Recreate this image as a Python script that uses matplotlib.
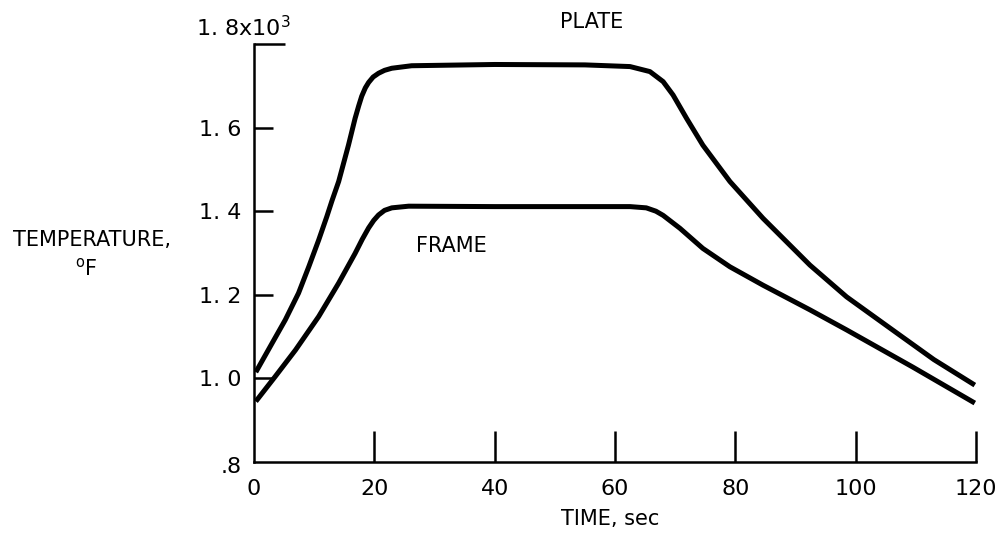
import numpy as np
import matplotlib
matplotlib.use("Agg")
import matplotlib.pyplot as plt

# -----------------------------
# Dados (tempo em s, temperatura em 10^3 °F)
# -----------------------------
plate_t = [0.3, 3.0, 5.2, 7.4, 9.1, 10.75, 12.1, 12.96, 14.07, 15.7, 16.8,
           17.4, 17.9, 18.5, 19.05, 19.8, 20.7, 21.7, 22.9, 26.2, 40, 55,
           62.5, 65.8, 68, 69.65, 71.9, 74.6, 79.1, 84.6, 92.4, 98.5, 106.8,
           113, 119.8]
plate_v = [1.015, 1.084, 1.14, 1.204, 1.267, 1.331, 1.387, 1.425, 1.471,
           1.558, 1.622, 1.652, 1.675, 1.695, 1.708, 1.721, 1.730, 1.737,
           1.742, 1.748, 1.751, 1.750, 1.746, 1.734, 1.71, 1.678, 1.622,
           1.558, 1.471, 1.383, 1.271, 1.195, 1.109, 1.045, 0.984]

frame_t = [0.3, 3.5, 6.9, 10.75, 14.07, 16.8, 18.0, 19.05, 19.9, 20.7, 21.7,
           22.9, 25.7, 40, 55, 62.5, 65.2, 66.8, 68, 70.8, 74.6, 79.1, 84.6,
           92.4, 98.5, 109.5, 119.8]
frame_v = [0.945, 1.004, 1.068, 1.148, 1.228, 1.299, 1.333, 1.360, 1.378,
           1.391, 1.402, 1.408, 1.412, 1.411, 1.411, 1.411, 1.408, 1.400,
           1.390, 1.359, 1.311, 1.267, 1.223, 1.164, 1.116, 1.027, 0.941]

x_ticks = [0, 20, 40, 60, 80, 100, 120]
x_labels = ["0", "20", "40", "60", "80", "100", "120"]
y_ticks = [1.0, 1.2, 1.4, 1.6]
y_labels = ["1. 0", "1. 2", "1. 4", "1. 6"]

# -----------------------------
# Figura
# -----------------------------
plt.rcParams['font.family'] = ['DejaVu Sans']
W, H = 997, 541
fig = plt.figure(figsize=(W / 100, H / 100), dpi=100)

def px(x, y):
    # converte pixels da imagem para fração da figura
    return x / W, 1 - y / H

ax = fig.add_axes([254 / W, 1 - 462 / H, (976 - 254) / W, (462 - 44) / H])
ax.plot(plate_t, plate_v, color='black', lw=3.6, solid_capstyle='butt',
        solid_joinstyle='round')
ax.plot(frame_t, frame_v, color='black', lw=3.6, solid_capstyle='butt',
        solid_joinstyle='round')

ax.set_xlim(0, 120)
ax.set_ylim(0.8, 1.8)
for s in ['top', 'right']:
    ax.spines[s].set_visible(False)
for s in ['left', 'bottom']:
    ax.spines[s].set_linewidth(1.8)

ax.set_xticks(x_ticks)
ax.set_xticklabels(x_labels, fontsize=16)
ax.set_yticks(y_ticks)
ax.set_yticklabels(y_labels, fontsize=16)
ax.set_yticks([1.8], minor=True)
ax.tick_params(axis='x', direction='in', length=22, width=1.8, pad=12)
ax.tick_params(axis='y', direction='in', length=14, width=1.8, pad=9)
ax.tick_params(axis='y', which='minor', direction='in', length=22, width=1.8)
# o tick em 0 fica em cima do eixo y, esconde só a marca
ax.xaxis.get_major_ticks()[0].tick1line.set_visible(False)

fig.text(*px(243, 28), r"1. 8x10$^{3}$", fontsize=16, ha='center', va='center')
fig.text(*px(231, 467), ".8", fontsize=16, ha='center', va='center')
fig.text(*px(592, 22), "PLATE", fontsize=15, ha='center', va='center')
fig.text(*px(451, 246), "FRAME", fontsize=15, ha='center', va='center')
fig.text(*px(92, 240), "TEMPERATURE,", fontsize=15, ha='center', va='center')
fig.text(*px(86, 268), r"$^{\mathrm{o}}$F", fontsize=15, ha='center', va='center')
fig.text(*px(610, 519), "TIME, sec", fontsize=15, ha='center', va='center')

fig.savefig("out.png", dpi=100)
